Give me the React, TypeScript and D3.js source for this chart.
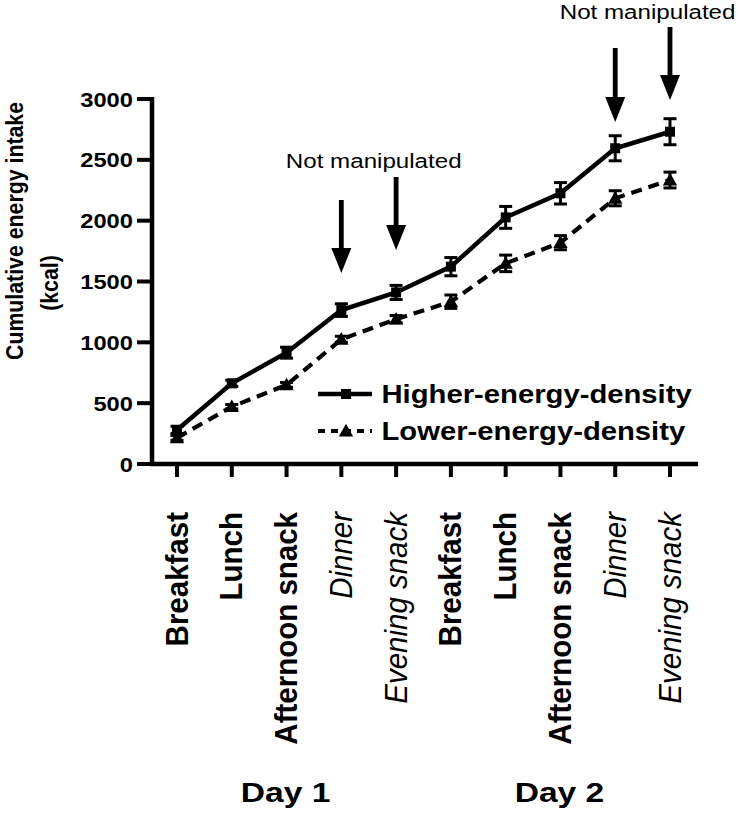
import React from "react";
import * as d3 from "d3";

const meals = ["Breakfast", "Lunch", "Afternoon snack", "Dinner", "Evening snack", "Breakfast", "Lunch", "Afternoon snack", "Dinner", "Evening snack"];
const italicMeals = [false, false, false, true, true, false, false, false, true, true];
const higherMean = [280, 663, 915, 1265, 1410, 1622, 2027, 2225, 2595, 2731];
const higherSem = [30, 25, 45, 52, 58, 75, 90, 88, 103, 107];
const lowerMean = [215, 471, 650, 1025, 1190, 1334, 1649, 1819, 2184, 2334];
const lowerSem = [20, 18, 20, 25, 30, 55, 68, 58, 62, 65];
const yTicks = [0, 500, 1000, 1500, 2000, 2500, 3000];
const days = ["Day 1", "Day 2"];
const dayCenterIndex = [2, 7];
// annotation arrows: meal index, top and tip (kcal units)
const arrowIndex = [3, 4, 8, 9];
const arrowTop = [2170, 2359, 3419, 3592];
const arrowTip = [1570, 1759, 2811, 2992];
const noteLabels = ["Not manipulated", "Not manipulated"];
const noteIndexPair = [[3, 4], [8, 9]];
const noteValue = [2433, 3660];
const seriesNames = ["Higher-energy-density", "Lower-energy-density"];

const FONT = "'Liberation Sans', Arial, Helvetica, sans-serif";

export default function App() {
  const y = d3.scaleLinear().domain([0, 3000]).range([464, 99]);
  const x = d3.scalePoint<number>().domain(d3.range(meals.length)).range([177, 670]);
  const line = d3.line<number>().x((_, i) => x(i)!).y((d) => y(d));
  const xAxisLeft = 150;
  const xAxisRight = 698;
  const yAxisX = 152;

  const square = (cx: number, cy: number, s: number) => (
    <rect x={cx - s / 2} y={cy - s / 2} width={s} height={s} fill="#000" />
  );
  const tri = (cx: number, cy: number, s: number) => {
    const p = d3.path();
    p.moveTo(cx, cy - s * 0.6);
    p.lineTo(cx + s * 0.6, cy + s * 0.45);
    p.lineTo(cx - s * 0.6, cy + s * 0.45);
    p.closePath();
    return <path d={p.toString()} fill="#000" />;
  };
  const errBar = (i: number, m: number, e: number, key: string) => {
    const cx = x(i)!;
    const cw = 6.5;
    return (
      <g key={key} stroke="#000" strokeWidth={3}>
        <line x1={cx} x2={cx} y1={y(m + e)} y2={y(m - e)} />
        <line x1={cx - cw} x2={cx + cw} y1={y(m + e)} y2={y(m + e)} />
        <line x1={cx - cw} x2={cx + cw} y1={y(m - e)} y2={y(m - e)} />
      </g>
    );
  };
  const arrow = (cx: number, top: number, tip: number, key: string) => {
    const headLen = 25;
    const headW = 10;
    const sw = 2.4;
    const p = d3.path();
    p.moveTo(cx - sw, top);
    p.lineTo(cx + sw, top);
    p.lineTo(cx + sw, tip - headLen);
    p.lineTo(cx + headW, tip - headLen);
    p.lineTo(cx, tip);
    p.lineTo(cx - headW, tip - headLen);
    p.lineTo(cx - sw, tip - headLen);
    p.closePath();
    return <path key={key} d={p.toString()} fill="#000" />;
  };

  return (
    <svg width={738} height={813} style={{ position: "absolute", left: 0, top: 0, background: "#fff" }} fontFamily={FONT}>
      <rect x={0} y={0} width={738} height={813} fill="#fff" />
      {/* y axis title */}
      <g transform="translate(23,231) rotate(-90) scale(1,1.12)">
        <text textAnchor="middle" fontSize={21.3} fontWeight="bold">Cumulative energy intake</text>
      </g>
      <g transform="translate(58,283) rotate(-90) scale(1,1.12)">
        <text textAnchor="middle" fontSize={21.3} fontWeight="bold">(kcal)</text>
      </g>

      {/* y axis */}
      <line x1={yAxisX} x2={yAxisX} y1={y(3000) - 2} y2={y(0) + 2} stroke="#000" strokeWidth={4.5} />
      {yTicks.map((t) => (
        <g key={"yt" + t}>
          <line x1={137} x2={yAxisX} y1={y(t)} y2={y(t)} stroke="#000" strokeWidth={4} />
          <g transform={`translate(133,${y(t) + 7.5}) scale(1.13,1)`}>
            <text textAnchor="end" fontSize={21} fontWeight="bold">{t}</text>
          </g>
        </g>
      ))}

      {/* x axis */}
      <line x1={xAxisLeft} x2={xAxisRight} y1={y(0)} y2={y(0)} stroke="#000" strokeWidth={4.5} />
      {meals.map((m, i) => (
        <g key={"xt" + i}>
          <line x1={x(i)} x2={x(i)} y1={y(0)} y2={y(0) + 13} stroke="#000" strokeWidth={4} />
          <g transform={`translate(${x(i)! + 10.5},512) rotate(-90) scale(1,1.08)`}>
            <text
              textAnchor="end"
              fontSize={29.5}
              fontWeight={italicMeals[i] ? "normal" : "bold"}
              fontStyle={italicMeals[i] ? "italic" : "normal"}
            >
              {m}
            </text>
          </g>
        </g>
      ))}
      {days.map((d, i) => (
        <g key={d} transform={`translate(${x(dayCenterIndex[i])! - 1},802) scale(1.2,1)`}>
          <text textAnchor="middle" fontSize={28} fontWeight="bold">{d}</text>
        </g>
      ))}

      {/* lower series */}
      <path d={line(lowerMean)!} fill="none" stroke="#000" strokeWidth={4.2} strokeDasharray="11,7" />
      {lowerMean.map((m, i) => errBar(i, m, lowerSem[i], "le" + i))}
      {lowerMean.map((m, i) => <g key={"lm" + i}>{tri(x(i)!, y(m), 12)}</g>)}

      {/* higher series */}
      <path d={line(higherMean)!} fill="none" stroke="#000" strokeWidth={4.5} />
      {higherMean.map((m, i) => errBar(i, m, higherSem[i], "he" + i))}
      {higherMean.map((m, i) => <g key={"hm" + i}>{square(x(i)!, y(m), 10)}</g>)}

      {/* annotations */}
      {arrowIndex.map((ai, k) => arrow(x(ai)!, y(arrowTop[k]), y(arrowTip[k]), "ar" + k))}
      {noteLabels.map((t, k) => (
        <g key={"nl" + k} transform={`translate(${(x(noteIndexPair[k][0])! + x(noteIndexPair[k][1])!) / 2 + 5},${y(noteValue[k])}) scale(1.15,1)`}>
          <text textAnchor="middle" fontSize={21}>{t}</text>
        </g>
      ))}

      {/* legend */}
      <line x1={318} x2={372} y1={394} y2={394} stroke="#000" strokeWidth={4.5} />
      {square(346, 394, 10)}
      <line x1={318} x2={372} y1={431} y2={431} stroke="#000" strokeWidth={4.2} strokeDasharray="7,6" />
      {tri(346, 431, 12)}
      {seriesNames.map((s, k) => (
        <g key={s} transform={`translate(381.5,${403 + k * 37}) scale(1.17,1)`}>
          <text fontSize={25} fontWeight="bold">{s}</text>
        </g>
      ))}
    </svg>
  );
}
